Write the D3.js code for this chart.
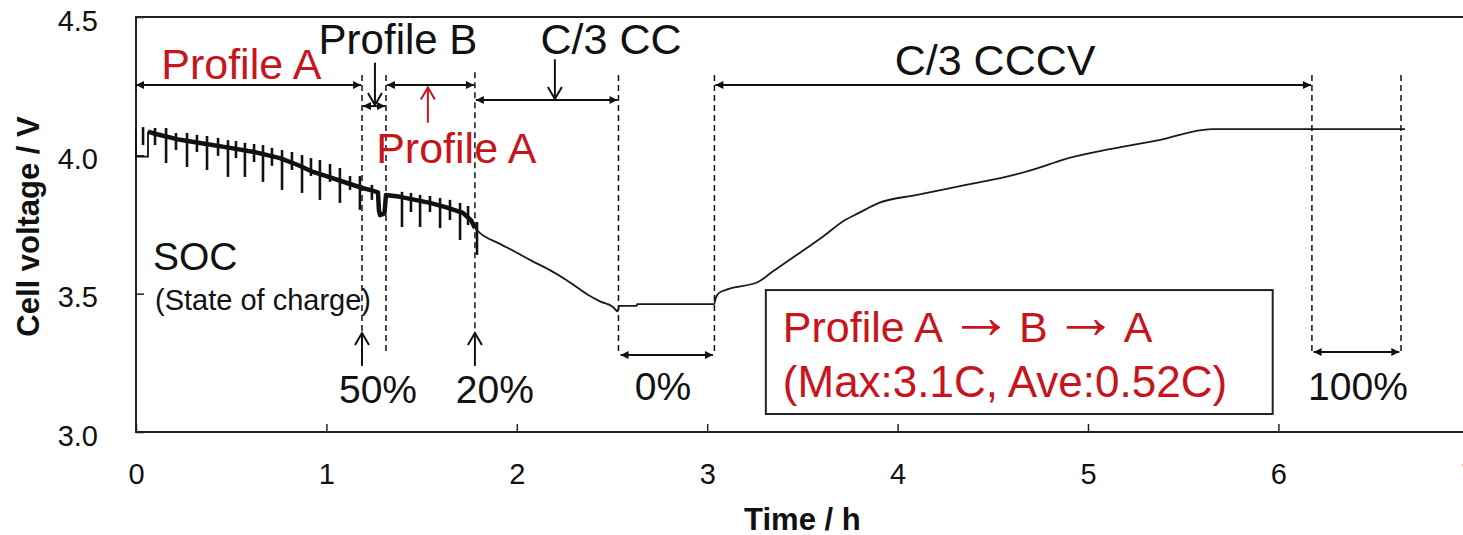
<!DOCTYPE html>
<html>
<head>
<meta charset="utf-8">
<script src="https://cdn.jsdelivr.net/npm/d3@7"></script>
<style>
  html, body { margin: 0; padding: 0; background: #fff; }
  svg { display: block; font-family: 'Liberation Sans', Arial, sans-serif; }
  .tick text { font-size: 29px; fill: #111; }
</style>
</head>
<body>
<svg id="chart" width="1463" height="535"></svg>
<script>
'use strict';

const RED = '#c8141c';

// ── Data: time / h, voltage / V ────────────────────────────────
const xTicks = [0, 1, 2, 3, 4, 5, 6, 7];
const yTicks = [3.0, 3.5, 4.0, 4.5];

// rest step at the very start of the record
const initialRest = [[0, 4.092], [0, 3.995], [0.063, 3.995], [0.063, 4.086]];

// base of the trace: profile A -> B -> A, C/3 CC, rest, C/3 CCCV, rest
const voltageTrace = [
  [0.063, 4.086], [0.10, 4.078], [0.231, 4.056], [0.36, 4.042], [0.494, 4.027],
  [0.62, 4.012], [0.756, 3.990], [0.85, 3.965], [0.930, 3.940], [1.02, 3.920],
  [1.108, 3.900], [1.187, 3.882], [1.229, 3.875], [1.271, 3.866], [1.276, 3.800],
  [1.282, 3.784], [1.305, 3.790], [1.313, 3.857], [1.387, 3.850], [1.46, 3.840],
  [1.544, 3.828], [1.63, 3.812], [1.717, 3.792], [1.76, 3.765], [1.780, 3.737],
  [1.807, 3.719], [1.912, 3.680], [2.000, 3.648], [2.069, 3.622], [2.174, 3.585],
  [2.264, 3.548], [2.369, 3.498], [2.437, 3.472], [2.505, 3.452], [2.530, 3.436],
  [2.537, 3.456], [2.630, 3.456], [2.632, 3.462], [3.036, 3.462], [3.045, 3.484],
  [3.062, 3.503], [3.114, 3.517], [3.267, 3.542], [3.340, 3.578], [3.493, 3.651],
  [3.598, 3.701], [3.724, 3.766], [3.797, 3.792], [3.902, 3.828], [4.102, 3.857],
  [4.359, 3.893], [4.611, 3.929], [4.737, 3.954], [4.863, 3.983], [5.121, 4.023],
  [5.373, 4.055], [5.651, 4.095], [6.665, 4.095]
];

// current pulses of the drive profiles: [time, upper V, lower V]
const pulseSpikes = [
  [0.037, 4.102, 4.037], [0.100, 4.099, 4.037], [0.158, 4.099, 3.972],
  [0.210, 4.081, 4.019], [0.268, 4.081, 3.958], [0.320, 4.074, 4.012],
  [0.373, 4.070, 3.947], [0.431, 4.063, 3.998], [0.483, 4.055, 3.922],
  [0.525, 4.052, 3.990], [0.572, 4.045, 3.922], [0.620, 4.041, 3.976],
  [0.667, 4.037, 3.904], [0.714, 4.027, 3.962], [0.767, 4.019, 3.875],
  [0.819, 4.012, 3.947], [0.872, 4.001, 3.864], [0.919, 3.990, 3.925],
  [0.966, 3.983, 3.839], [1.019, 3.969, 3.904], [1.071, 3.954, 3.828],
  [1.124, 3.925, 3.875], [1.176, 3.925, 3.803], [1.239, 3.893, 3.839],
  [1.397, 3.868, 3.741], [1.444, 3.864, 3.795], [1.492, 3.857, 3.741],
  [1.544, 3.853, 3.795], [1.597, 3.846, 3.737], [1.649, 3.839, 3.766],
  [1.702, 3.828, 3.694], [1.744, 3.817, 3.748], [1.791, 3.759, 3.640]
];

// phase boundaries (dashed markers): time, top V, bottom V
const boundaries = [
  [1.187, 4.29, 3.358], [1.313, 4.29, 3.285], [1.780, 4.30, 3.358],
  [2.534, 4.29, 3.289], [3.038, 4.29, 3.289], [6.176, 4.29, 3.289],
  [6.644, 4.29, 3.289]
];

// double-headed spans: from t, to t, V
const spans = [
  [0.0, 1.182, 4.254], [1.192, 1.308, 4.178], [1.318, 1.775, 4.254],
  [1.785, 2.529, 4.200], [3.043, 6.171, 4.254], [2.545, 3.030, 3.278],
  [6.185, 6.635, 3.289]
];

// single pointer arrows: t, from V, to V (tip), colour
const pointers = [
  [1.255, 4.335, 4.182, '#111'], [2.200, 4.347, 4.204, '#111'],
  [1.533, 4.118, 4.245, RED], [1.187, 3.239, 3.358, '#111'],
  [1.780, 3.239, 3.358, '#111']
];

// text labels: text, t, V (baseline), anchor, size, colour
const labels = [
  ['Profile A', 0.553, 4.276, 'middle', 43, RED],
  ['Profile B', 1.376, 4.366, 'middle', 42, '#111'],
  ['C/3 CC', 2.495, 4.366, 'middle', 43, '#111'],
  ['C/3 CCCV', 4.512, 4.290, 'middle', 43, '#111'],
  ['Profile A', 1.682, 3.972, 'middle', 43, RED],
  ['SOC', 0.089, 3.586, 'start', 39, '#111'],
  ['(State of charge)', 0.100, 3.441, 'start', 29, '#111'],
  ['50%', 1.271, 3.105, 'middle', 39, '#111'],
  ['20%', 1.885, 3.105, 'middle', 39, '#111'],
  ['0%', 2.768, 3.116, 'middle', 39, '#111'],
  ['100%', 6.418, 3.116, 'middle', 39, '#111']
];

// legend box text, split where the arrows go
const legendRow1 = ['Profile A', '\u2192', 'B', '\u2192', 'A'];
const legendRow2 = '(Max:3.1C, Ave:0.52C)';

// ── Layout ─────────────────────────────────────────────────────
const svg = d3.select('#chart');
const margin = { left: 136, top: 17, bottom: 103 };
const H = 535;
const x = d3.scaleLinear().domain([0, 7]).range([margin.left, margin.left + 7 * 190.4]);
const y = d3.scaleLinear().domain([3.0, 4.5]).range([H - margin.bottom, margin.top]);

// ── Markers ────────────────────────────────────────────────────
const defs = svg.append('defs');
defs.append('marker')
  .attr('id', 'head')
  .attr('viewBox', '0 -5 10 10')
  .attr('refX', 10)
  .attr('refY', 0)
  .attr('markerUnits', 'userSpaceOnUse')
  .attr('markerWidth', 10)
  .attr('markerHeight', 8)
  .attr('orient', 'auto-start-reverse')
  .append('path')
    .attr('d', 'M0,-5L10,0L0,5Z')
    .attr('fill', '#111');

// ── Axes ───────────────────────────────────────────────────────
const xAxis = svg.append('g')
  .attr('transform', `translate(0,${y(3.0)})`)
  .call(d3.axisBottom(x).tickValues(xTicks).tickFormat(d3.format('d'))
    .tickSizeInner(-8).tickSizeOuter(0).tickPadding(31));
xAxis.select('.domain').remove();
xAxis.selectAll('line').attr('stroke', '#222').attr('stroke-width', 1.5);

const yAxis = svg.append('g')
  .attr('transform', `translate(${x(0)},0)`)
  .call(d3.axisLeft(y).tickValues(yTicks).tickFormat(d3.format('.1f'))
    .tickSizeInner(-8).tickSizeOuter(0).tickPadding(38));
yAxis.select('.domain').remove();
yAxis.selectAll('line').attr('stroke', '#222').attr('stroke-width', 1.5);
yAxis.selectAll('text').attr('dy', '0.45em');

// frame (right edge lies outside the window)
svg.append('path')
  .attr('d', `M${x(7)},${y(4.5)}H${x(0)}V${y(3.0)}H${x(7)}`)
  .attr('fill', 'none')
  .attr('stroke', '#222')
  .attr('stroke-width', 2);

svg.append('text')
  .attr('x', (x(0) + x(7)) / 2)
  .attr('y', 530)
  .attr('text-anchor', 'middle')
  .attr('font-weight', 'bold')
  .attr('font-size', 31)
  .attr('fill', '#111')
  .text('Time / h');

svg.append('text')
  .attr('transform', `translate(39,${(y(3.0) + y(4.5)) / 2 + 2}) rotate(-90)`)
  .attr('text-anchor', 'middle')
  .attr('font-weight', 'bold')
  .attr('font-size', 31)
  .attr('fill', '#111')
  .text('Cell voltage / V');

// ── Voltage trace ──────────────────────────────────────────────
const line = d3.line().x(d => x(d[0])).y(d => y(d[1]));

svg.append('path')
  .datum(initialRest)
  .attr('d', line)
  .attr('fill', 'none')
  .attr('stroke', '#111')
  .attr('stroke-width', 1.8);

const profileEnd = 1.785;
svg.append('path')
  .datum(voltageTrace.filter(d => d[0] <= profileEnd))
  .attr('d', line)
  .attr('fill', 'none')
  .attr('stroke', '#111')
  .attr('stroke-width', 4.5)
  .attr('stroke-linejoin', 'round');

svg.append('path')
  .datum(voltageTrace.filter(d => d[0] >= 1.780))
  .attr('d', d3.line().curve(d3.curveMonotoneX).x(d => x(d[0])).y(d => y(d[1])))
  .attr('fill', 'none')
  .attr('stroke', '#1a1a1a')
  .attr('stroke-width', 1.8)
  .attr('stroke-linejoin', 'round');

svg.append('g')
  .selectAll('line')
  .data(pulseSpikes)
  .join('line')
    .attr('x1', d => x(d[0]))
    .attr('x2', d => x(d[0]))
    .attr('y1', d => y(d[1]))
    .attr('y2', d => y(d[2]))
    .attr('stroke', '#111')
    .attr('stroke-width', 2.6);

// ── Annotations ────────────────────────────────────────────────
svg.append('g')
  .selectAll('line')
  .data(boundaries)
  .join('line')
    .attr('x1', d => x(d[0]))
    .attr('x2', d => x(d[0]))
    .attr('y1', d => y(d[1]))
    .attr('y2', d => y(d[2]))
    .attr('stroke', '#111')
    .attr('stroke-width', 1.5)
    .attr('stroke-dasharray', '6,4');

svg.append('g')
  .selectAll('line')
  .data(spans)
  .join('line')
    .attr('x1', d => x(d[0]))
    .attr('x2', d => x(d[1]))
    .attr('y1', d => y(d[2]))
    .attr('y2', d => y(d[2]))
    .attr('stroke', '#111')
    .attr('stroke-width', 2)
    .attr('marker-start', 'url(#head)')
    .attr('marker-end', 'url(#head)');

const ptr = svg.append('g').selectAll('g').data(pointers).join('g');
ptr.append('line')
  .attr('x1', d => x(d[0]))
  .attr('x2', d => x(d[0]))
  .attr('y1', d => y(d[1]))
  .attr('y2', d => y(d[2]))
  .attr('stroke', d => d[3])
  .attr('stroke-width', 2);
ptr.append('path')
  .attr('d', d => {
    const px = x(d[0]), tip = y(d[2]);
    const dir = y(d[1]) > tip ? 1 : -1; // 1: pointing up
    return `M${px - 7},${tip + dir * 12}L${px},${tip}L${px + 7},${tip + dir * 12}`;
  })
  .attr('fill', 'none')
  .attr('stroke', d => d[3])
  .attr('stroke-width', 2);

svg.append('g')
  .selectAll('text')
  .data(labels)
  .join('text')
    .attr('x', d => x(d[1]))
    .attr('y', d => y(d[2]))
    .attr('text-anchor', d => d[3])
    .attr('font-size', d => d[4])
    .attr('fill', d => d[5])
    .text(d => d[0]);

// legend box
const box = { t0: 3.308, t1: 5.970, v0: 3.513, v1: 3.065 };
svg.append('rect')
  .attr('x', x(box.t0))
  .attr('y', y(box.v0))
  .attr('width', x(box.t1) - x(box.t0))
  .attr('height', y(box.v1) - y(box.v0))
  .attr('fill', 'none')
  .attr('stroke', '#222')
  .attr('stroke-width', 2);

// thin long arrows: the sans arrow glyph drawn larger, kept at mid-cap height
const row1 = svg.append('text')
  .attr('x', x(box.t0) + 17)
  .attr('y', y(box.v0) + 52)
  .attr('font-size', 43)
  .attr('fill', RED);
row1.selectAll('tspan')
  .data(legendRow1)
  .join('tspan')
    .attr('font-size', d => d === '\u2192' ? 64 : null)
    .attr('dx', (d, i) => i > 0 ? 6 : 0)
    .attr('dy', (d, i) => d === '\u2192' ? -4 : (i > 0 ? 4 : 0))
    .text(d => d);

svg.append('text')
  .attr('x', x(box.t0) + 17)
  .attr('y', y(box.v0) + 107)
  .attr('font-size', 44)
  .attr('fill', RED)
  .text(legendRow2);
</script>
</body>
</html>
